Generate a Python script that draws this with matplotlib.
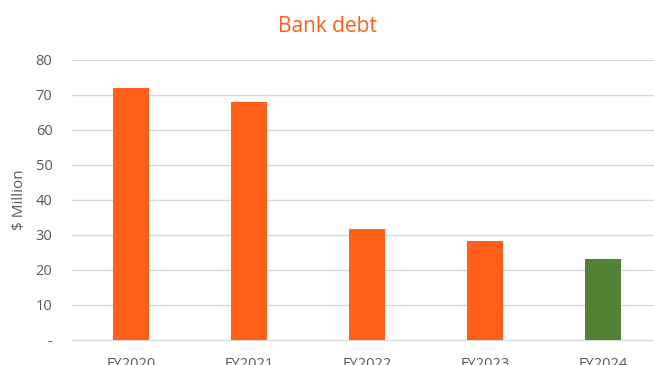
import matplotlib
matplotlib.use('Agg')
import matplotlib.pyplot as plt
from matplotlib.ticker import FuncFormatter

years = ['FY2020', 'FY2021', 'FY2022', 'FY2023', 'FY2024']
debt = [72, 68, 31.7, 28.3, 23.1]
bar_colors = ['#FF5F19', '#FF5F19', '#FF5F19', '#FF5F19', '#548235']

plt.rcParams['font.family'] = ['Open Sans', 'DejaVu Sans']

fig = plt.figure(figsize=(6.54, 3.65), dpi=100)
ax = fig.add_axes([0.110, 0.0685, 0.902, 0.7675])

ax.bar(range(len(years)), debt, width=0.31, color=bar_colors, zorder=3)
ax.set_xlim(-0.5, len(years) - 0.5)
ax.set_ylim(0, 80)
ax.set_yticks(range(0, 81, 10))
ax.yaxis.set_major_formatter(FuncFormatter(lambda v, p: '-' if v == 0 else f'{int(v)}'))
ax.set_xticks(range(len(years)))
ax.set_xticklabels(years)

ax.grid(axis='y', color='#D9D9D9', linewidth=1, zorder=0)
for s in ['top', 'right', 'left']:
    ax.spines[s].set_visible(False)
ax.spines['bottom'].set_color('#D9D9D9')
ax.tick_params(axis='both', length=0, colors='#595959', labelsize=10.5)
ax.tick_params(axis='y', pad=14)
ax.tick_params(axis='x', pad=12)

ax.set_ylabel('$ Million', color='#595959', fontsize=11, labelpad=6)
fig.suptitle('Bank debt', color='#FF5F19', fontsize=15, y=0.955)

fig.savefig('out.png', dpi=100)
